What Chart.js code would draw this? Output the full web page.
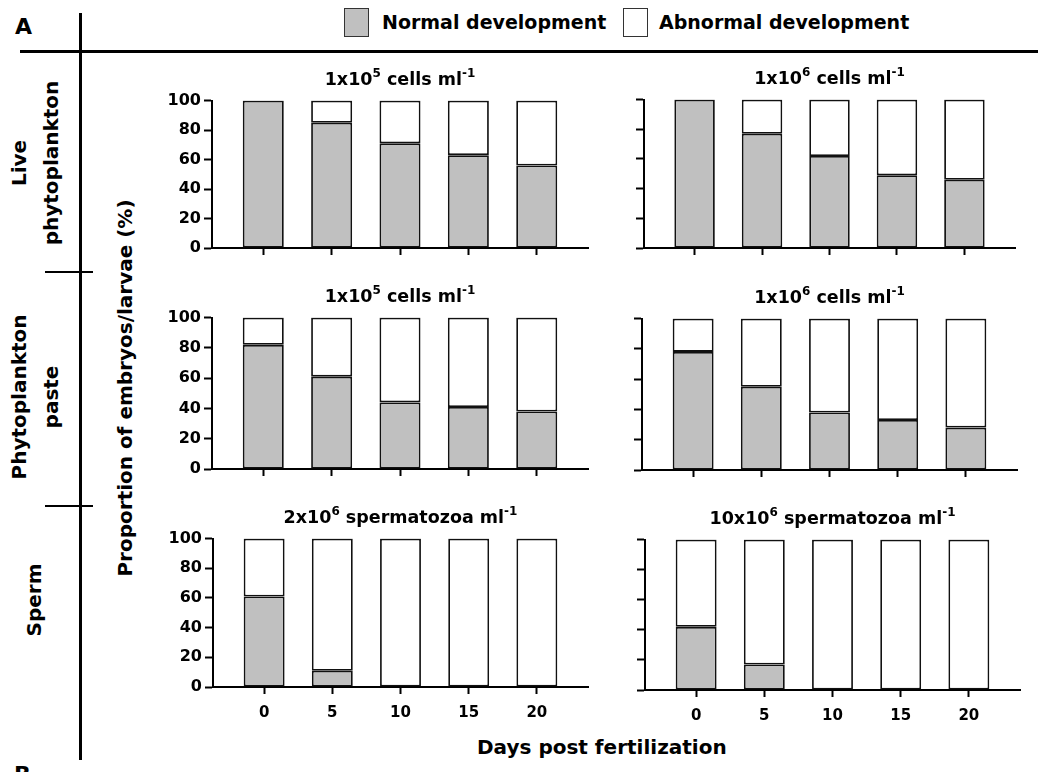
<!DOCTYPE html>
<html>
<head>
<meta charset="utf-8">
<script src="https://cdn.jsdelivr.net/npm/chart.js@4.4.1/dist/chart.umd.min.js"></script>
<style>
  html, body { margin: 0; padding: 0; background: #fff; }
  body { width: 1038px; height: 772px; position: relative; overflow: hidden;
         font-family: "DejaVu Sans", "Liberation Sans", Arial, sans-serif; font-weight: bold; color: #000; }
  .abs { position: absolute; }
  canvas { position: absolute; }
  .hline { position: absolute; background: #000; }
  .title { position: absolute; font-size: 17.5px; white-space: nowrap; transform: translateX(-50%); line-height: 1; }
  .title sup { font-size: 12px; vertical-align: 0; position: relative; top: -8px; }
  .rot { position: absolute; transform: translate(-50%, -50%) rotate(-90deg); white-space: nowrap; text-align: center; }
</style>
</head>
<body>
<script>
// ---------------- data ----------------
const days = [0, 5, 10, 15, 20];
const tickLabels = ['0', '5', '10', '15', '20'];
const yTicks = [0, 20, 40, 60, 80, 100];

const liveLowNormal    = [100, 85, 71, 63, 56];
const liveLowAbnormal  = [0, 15, 29, 37, 44];
const liveHighNormal   = [100, 77, 62, 49, 46];
const liveHighAbnormal = [0, 23, 38, 51, 54];
const pasteLowNormal    = [82, 61, 44, 41, 38];
const pasteLowAbnormal  = [18, 39, 56, 59, 62];
const pasteHighNormal   = [78, 55, 38, 33, 28];
const pasteHighAbnormal = [22, 45, 62, 67, 72];
const spermLowNormal    = [61, 11, 0, 0, 0];
const spermLowAbnormal  = [39, 89, 100, 100, 100];
const spermHighNormal   = [42, 17, 0, 0, 0];
const spermHighAbnormal = [58, 83, 100, 100, 100];

const seriesNames = ['Normal development', 'Abnormal development'];
const rowLabels = [['Live', 'phytoplankton'], ['Phytoplankton', 'paste'], ['Sperm']];
const panelTitles = [
  ['1x10', '5', ' cells ml', '-1'],
  ['1x10', '6', ' cells ml', '-1'],
  ['1x10', '5', ' cells ml', '-1'],
  ['1x10', '6', ' cells ml', '-1'],
  ['2x10', '6', ' spermatozoa ml', '-1'],
  ['10x10', '6', ' spermatozoa ml', '-1']
];
const yTitle = 'Proportion of embryos/larvae (%)';
const xTitle = 'Days post fertilization';

// ---------------- layout ----------------
const FONT = '"DejaVu Sans", "Liberation Sans", Arial, sans-serif';
const GREY = '#c0c0c0';
const EDGE = '#111111';
const panels = [
  { area: { l: 212, t: 100, r: 588, b: 248 }, n: liveLowNormal,  a: liveLowAbnormal,  yl: true,  xl: false },
  { area: { l: 644, t: 99,  r: 1015, b: 248 }, n: liveHighNormal, a: liveHighAbnormal, yl: false, xl: false },
  { area: { l: 212, t: 317, r: 588, b: 469 }, n: pasteLowNormal,  a: pasteLowAbnormal,  yl: true,  xl: false },
  { area: { l: 642, t: 318, r: 1017, b: 470 }, n: pasteHighNormal, a: pasteHighAbnormal, yl: false, xl: false },
  { area: { l: 213, t: 538, r: 588, b: 687 }, n: spermLowNormal,  a: spermLowAbnormal,  yl: true,  xl: true },
  { area: { l: 645, t: 539, r: 1020, b: 690 }, n: spermHighNormal, a: spermHighAbnormal, yl: false, xl: true }
];

function addDiv(cls, style, html) {
  const d = document.createElement('div');
  d.className = cls;
  Object.assign(d.style, style);
  if (html !== undefined) d.innerHTML = html;
  document.body.appendChild(d);
  return d;
}

// frame lines
addDiv('hline', { left: '79px', top: '13px', width: '3px', height: '747px' });
addDiv('hline', { left: '20px', top: '50px', width: '1018px', height: '3px' });
addDiv('hline', { left: '45px', top: '271px', width: '48px', height: '2px' });
addDiv('hline', { left: '45px', top: '505px', width: '48px', height: '2px' });

// panel letters
addDiv('abs', { left: '15px', top: '16px', fontSize: '22px', lineHeight: '1' }, 'A');
addDiv('abs', { left: '14px', top: '764px', fontSize: '22px', lineHeight: '1' }, 'B');

// legend
addDiv('abs', { left: '344px', top: '8px', width: '25px', height: '29px', background: GREY, border: '1px solid #333', boxSizing: 'border-box' });
addDiv('abs', { left: '382px', top: '11px', fontSize: '19px', lineHeight: '1.2', whiteSpace: 'nowrap' }, seriesNames[0]);
addDiv('abs', { left: '623px', top: '8px', width: '25px', height: '29px', background: '#fff', border: '1px solid #333', boxSizing: 'border-box' });
addDiv('abs', { left: '659px', top: '11px', fontSize: '19px', lineHeight: '1.2', whiteSpace: 'nowrap' }, seriesNames[1]);

// row labels
addDiv('rot', { left: '35px', top: '163px', fontSize: '20px', lineHeight: '32px' }, rowLabels[0].join('<br>'));
addDiv('rot', { left: '35px', top: '397px', fontSize: '20px', lineHeight: '32px' }, rowLabels[1].join('<br>'));
addDiv('rot', { left: '34px', top: '600px', fontSize: '20px', lineHeight: '32px' }, rowLabels[2].join('<br>'));

// axis titles
addDiv('rot', { left: '125px', top: '388px', fontSize: '20px', lineHeight: '1.2' }, yTitle);
addDiv('abs', { left: '477px', top: '735px', fontSize: '20px', lineHeight: '1.2', whiteSpace: 'nowrap' }, xTitle);

// panels
const YW = 60, PT = 12, PR = 6;
panels.forEach((p, idx) => {
  const A = p.area;
  const XH = p.xl ? 42 : 14;
  const cl = A.l - YW, ct = A.t - PT;
  const cw = A.r + PR - cl, ch = A.b + XH - ct;
  const cv = document.createElement('canvas');
  cv.width = cw; cv.height = ch;
  cv.style.left = cl + 'px'; cv.style.top = ct + 'px';
  cv.style.width = cw + 'px'; cv.style.height = ch + 'px';
  document.body.appendChild(cv);

  const t = panelTitles[idx];
  addDiv('title', { left: ((A.l + A.r) / 2) + 'px', top: (A.t - 29) + 'px' },
    t[0] + '<sup>' + t[1] + '</sup>' + t[2] + '<sup>' + t[3] + '</sup>');

  new Chart(cv.getContext('2d'), {
    type: 'bar',
    data: {
      datasets: [
        { label: seriesNames[0], data: days.map((d, i) => ({ x: d, y: p.n[i] })),
          backgroundColor: GREY, borderColor: EDGE, borderWidth: 1.8, borderSkipped: false,
          categoryPercentage: 1, barPercentage: 0.6 },
        { label: seriesNames[1], data: days.map((d, i) => ({ x: d, y: p.a[i] })),
          backgroundColor: '#ffffff', borderColor: EDGE, borderWidth: 1.8, borderSkipped: false,
          categoryPercentage: 1, barPercentage: 0.6 }
      ]
    },
    options: {
      responsive: false,
      animation: false,
      devicePixelRatio: 1,
      layout: { padding: { left: 0, top: PT, right: PR, bottom: 0 } },
      plugins: { legend: { display: false }, tooltip: { enabled: false }, title: { display: false } },
      scales: {
        x: {
          type: 'linear', stacked: true, offset: false,
          min: -3.75, max: 23.75,
          afterBuildTicks: s => { s.ticks = days.map(v => ({ value: v })); },
          afterFit: s => { s.height = XH; },
          grid: { display: true, drawOnChartArea: false, drawTicks: true, tickLength: 7, tickWidth: 2, tickColor: '#000', offset: false },
          border: { display: true, color: '#000', width: 2 },
          ticks: {
            autoSkip: false, maxRotation: 0, padding: 10, color: '#000',
            font: { family: FONT, size: 15, weight: 'bold' },
            callback: v => p.xl ? tickLabels[days.indexOf(v)] : ''
          }
        },
        y: {
          stacked: true, min: 0, max: 100,
          afterBuildTicks: s => { s.ticks = yTicks.map(v => ({ value: v })); },
          afterFit: s => { s.width = YW; },
          grid: { display: true, drawOnChartArea: false, drawTicks: true, tickLength: 8, tickWidth: 2, tickColor: '#000' },
          border: { display: true, color: '#000', width: 2 },
          ticks: {
            padding: 3, color: '#000',
            font: { family: FONT, size: 16, weight: 'bold' },
            callback: v => p.yl ? String(v) : ''
          }
        }
      }
    }
  });
});
</script>
</body>
</html>
